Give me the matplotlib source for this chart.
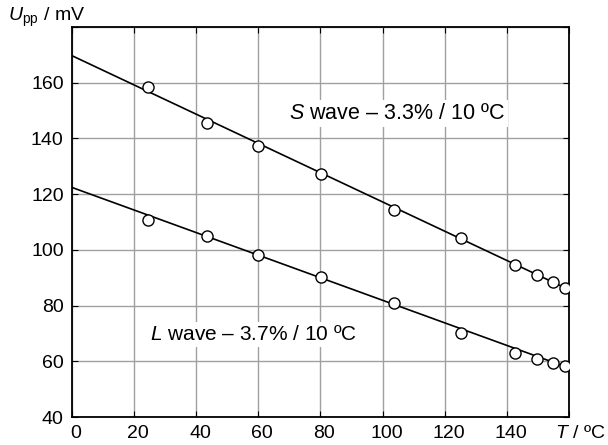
import matplotlib
matplotlib.use('Agg')
import matplotlib.pyplot as plt
from matplotlib.transforms import ScaledTranslation

plt.rcParams['font.family'] = ['Liberation Sans', 'DejaVu Sans']
plt.rcParams['mathtext.fontset'] = 'custom'
plt.rcParams['mathtext.rm'] = 'Liberation Sans'
plt.rcParams['mathtext.it'] = 'Liberation Sans:italic'

T = [24.6, 43.6, 59.8, 80.3, 103.7, 125.4, 142.5, 149.6, 154.8, 158.7]
u_s = [158.6, 145.7, 137.4, 127.2, 114.3, 104.4, 94.4, 90.9, 88.4, 86.2]
u_l = [110.9, 104.8, 98.0, 90.1, 81.1, 70.0, 62.9, 60.7, 59.3, 58.2]

# fitted lines
fit_T = [0, 160]
fit_s = [169.7, 85.7]
fit_l = [122.4, 57.6]

xticks = [0, 20, 40, 60, 80, 100, 120, 140]
yticks = [40, 60, 80, 100, 120, 140, 160]

fig = plt.figure(figsize=(6.08, 4.45), dpi=100)
ax = fig.add_axes([0.1184, 0.0629, 0.8174, 0.8764])

ax.plot(fit_T, fit_s, color='black', lw=1.2, zorder=3)
ax.plot(fit_T, fit_l, color='black', lw=1.2, zorder=3)
ax.plot(T, u_s, 'o', mfc='white', mec='black', ms=8, mew=1.0, zorder=4)
ax.plot(T, u_l, 'o', mfc='white', mec='black', ms=8, mew=1.0, zorder=4)

ax.set_xlim(0, 160)
ax.set_ylim(40, 180)
ax.set_xticks(xticks + [160])
ax.set_xticklabels([str(v) for v in xticks] + [''])
ax.set_yticks(yticks + [180])
ax.set_yticklabels([str(v) for v in yticks] + [''])
ax.tick_params(direction='in', length=4, labelsize=14, right=True, top=True)
ax.tick_params(axis='x', pad=6)
ax.tick_params(axis='y', pad=6)
ax.grid(color='#a0a0a0', lw=1)
for s in ax.spines.values():
    s.set_linewidth(1.3)

# x labels sit a little right of their ticks in the original
for lbl in ax.get_xticklabels():
    lbl.set_transform(lbl.get_transform() + ScaledTranslation(0.04, 0, fig.dpi_scale_trans))

ax.text(69.9, 148.9, '$\\mathit{S}$ wave – 3.3% / 10 ºC', fontsize=15.5,
        va='center', ha='left', bbox=dict(fc='white', ec='none', pad=2), zorder=2)
ax.text(25.2, 69.6, '$\\mathit{L}$ wave – 3.7% / 10 ºC', fontsize=15,
        va='center', ha='left', bbox=dict(fc='white', ec='none', pad=2), zorder=2)

fig.text(0.013, 0.96, '$\\mathit{U}_{\\mathrm{pp}}$ / mV', fontsize=14, va='center', ha='left')
fig.text(0.913, 0.006, '$\\mathit{T}$ / ºC', fontsize=14, va='bottom', ha='left')

fig.savefig('out.png', dpi=100)
